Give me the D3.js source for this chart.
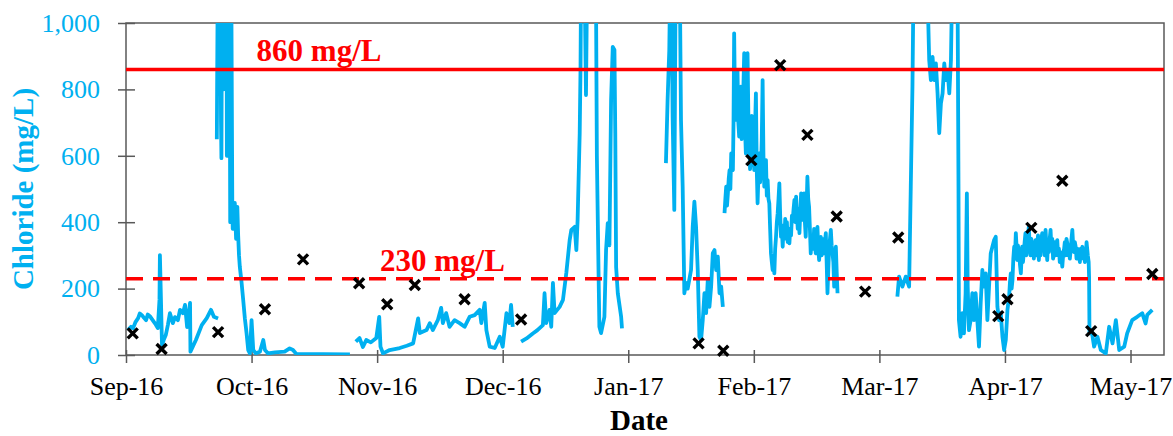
<!DOCTYPE html>
<html>
<head>
<meta charset="utf-8">
<script src="https://cdn.jsdelivr.net/npm/d3@7"></script>
<style>
  body { margin: 0; background: #fff; }
  svg { display: block; font-family: "Liberation Serif", "Times New Roman", serif; }
</style>
</head>
<body>
<div id="wrapper"></div>
<script>
// record start; the date axis is ticked every 30 days from here
const startDate = Date.UTC(2016, 8, 8);
const axisDays = 248;
const tickStepDays = 30;
const yTicks = [0, 200, 400, 600, 800, 1000];

// continuous sensor record: [days after start, chloride mg/L], null = gap in record
const sensorSeries = [
  [0.5,75],[1.2,85],[1.7,81],[2.3,100],[2.9,111],[3.3,125],[3.8,120],[4.3,112],[4.8,105],[5.2,122],[5.7,117],
  [6.2,108],[6.7,99],[7.1,92],[7.6,81],[8.0,166],[8.1,301],[8.35,166],[8.6,30],[9.0,45],[9.5,60],[10.0,90],
  [10.5,126],[11.2,96],[11.7,114],[12.4,105],[12.9,136],[13.6,126],
  [14.1,151],[14.6,84],[15.3,157],[15.4,10],[16.7,45],[18.1,90],[19.3,111],[20.3,136],[21.0,115],[22.0,110],
  null,
  [21.7,650],[22.0,1300],[22.15,900],[22.3,1250],[22.5,1300],[22.7,700],[22.8,593],[23.0,1300],[23.25,800],
  [23.5,1300],[23.7,1300],[23.9,1300],[24.0,1300],[24.1,600],[24.3,1300],[24.5,900],[24.7,1300],[24.9,400],
  [25.05,1300],[25.2,1000],[25.4,450],[25.5,380],[25.8,430],[26.0,458],[26.3,350],
  [26.6,446],[26.8,360],[27.0,300],[27.2,265],[27.6,220],[28.0,166],[28.4,110],[28.8,66],[29.2,15],
  [29.6,5],[30.0,105],[30.4,15],[31.0,5],[32.0,10],[32.8,45],[33.2,15],[33.9,5],[35.6,8],[37.9,10],
  [39.1,20],[39.9,15],[40.7,3],[53.5,2],
  null,
  [54.9,40],[55.8,51],[56.6,24],[57.4,45],[58.5,38],[59.8,51],[60.5,115],[60.8,25],[61.4,5],[63.0,15],
  [65.4,21],[67.1,28],[68.6,35],[69.8,110],[70.2,66],[71.8,75],[72.6,96],[73.3,75],[74.5,105],[75.3,142],
  [75.7,96],[76.5,126],[77.3,85],[78.5,105],[79.7,96],[80.9,85],[82.1,115],[83.3,120],[84.5,136],
  [84.9,96],[85.7,157],[86.1,75],[86.9,25],[88.1,21],[89.3,55],[90.0,25],[90.9,126],[91.6,96],[92.0,151],[92.4,85],
  null,
  [94.4,40],[95.7,50],[97.2,65],[98.3,75],[99.6,90],[100.0,186],[100.4,96],[101.2,136],[101.6,85],
  [102.0,217],[102.4,126],[103.6,145],[104.4,166],[105.2,247],[106.0,346],[106.4,377],[107.2,386],
  [107.6,316],[107.9,407],[108.4,668],[108.6,868],[108.8,1300],[109.5,1200],[109.9,783],[110.3,1300],
  [111.2,1400],[112.2,1300],[112.5,600],[112.9,250],[113.1,85],[113.5,66],[114.3,115],[114.7,316],
  [115.1,397],[115.5,330],[115.9,768],[116.3,928],[116.7,919],[116.9,668],[117.1,265],[117.5,186],
  [118.3,115],[118.5,80],
  null,
  [129.0,578],[129.4,768],[129.8,918],[130.2,1300],[130.6,718],[131.0,437],[131.4,1300],[132.2,1300],
  [132.6,708],[133.0,507],[133.4,186],[133.8,217],[134.2,200],[135.0,256],[135.4,386],[135.8,462],
  [136.2,386],[136.6,256],[137.0,55],[137.4,45],[137.8,105],[138.2,186],[138.6,126],[139.0,226],
  [139.4,145],[139.8,206],[140.2,307],[140.6,316],[141.0,256],[141.4,296],[141.8,186],[142.2,206],[142.6,145],
  null,
  [143.0,427],[143.2,470],[143.4,507],[143.6,450],[143.8,487],[144.0,530],[144.2,557],[144.4,500],[144.6,607],
  [144.8,560],[145.0,557],[145.15,700],[145.3,969],[145.5,760],[145.7,708],[145.9,820],[146.1,858],[146.3,700],
  [146.5,658],[146.7,760],[146.9,808],[147.1,650],[147.3,708],[147.5,800],[147.7,909],[147.9,680],[148.1,607],
  [148.3,760],[148.5,909],[148.7,720],[148.9,658],[149.1,560],[149.3,607],[149.5,720],[149.7,688],[149.9,600],
  [150.1,557],[150.3,690],[150.5,788],[150.7,560],[150.9,457],[151.1,540],[151.3,607],[151.5,520],[151.7,557],
  [151.9,650],[152.1,828],[152.3,600],[152.5,507],[152.7,560],[152.9,587],[153.1,480],[153.3,527],[153.5,470],
  [153.7,457],[153.9,380],[154.1,306],[154.3,280],[154.5,256],[154.7,300],[154.9,246],[155.1,320],[155.3,356],
  [155.5,400],[155.7,427],[155.9,470],[156.1,517],[156.3,420],[156.5,356],[156.7,380],[156.9,326],[157.1,390],
  [157.3,350],[157.5,410],[157.7,356],[157.9,400],[158.1,340],[158.3,380],[158.5,336],[158.7,380],[158.9,360],
  [159.1,420],[159.3,407],[159.5,440],[159.7,467],[159.9,400],[160.1,477],[160.3,420],[160.5,380],[160.7,440],
  [160.9,367],[161.1,430],[161.3,487],[161.5,420],[161.6,407],[161.8,450],[162.0,487],[162.2,400],[162.4,356],
  [162.6,440],[162.8,537],[163.0,470],[163.2,447],[163.4,380],[163.6,306],[163.8,360],[164.0,356],[164.2,320],
  [164.4,380],[164.6,330],[164.8,306],[165.0,360],[165.2,386],[165.4,320],[165.6,286],[165.8,330],[166.0,356],
  [166.2,300],[166.4,350],[166.6,320],[166.8,306],[167.0,340],[167.2,367],[167.4,280],[167.6,186],[167.8,260],
  [168.0,326],[168.2,350],[168.4,377],[168.6,330],[168.8,306],[169.0,280],[169.2,206],[169.4,290],[169.6,326],
  [169.8,250],[170.0,186],
  null,
  [184.3,176],[184.7,236],[185.5,206],[186.3,236],[187.1,206],[187.5,507],[187.9,808],[188.3,1300],
  [189.5,1400],[191.1,1300],[191.9,889],[192.3,828],[192.7,898],[193.1,828],[193.5,878],[193.9,788],
  [194.3,668],[194.7,758],[195.1,788],[195.5,878],[195.9,828],[196.3,858],[196.7,788],[197.1,889],
  [197.6,1300],[198.6,1300],[198.9,507],[199.0,105],[199.4,55],[199.8,126],[200.2,65],[200.6,186],
  [200.9,487],[201.1,206],[201.4,75],[201.8,105],[202.2,186],[202.6,105],[203.0,186],[203.4,105],
  [203.8,25],[204.2,156],[204.6,256],[205.0,206],[205.4,246],[205.8,105],[206.2,206],[206.6,306],
  [207.0,326],[207.4,346],[207.8,356],[208.2,145],[208.6,105],[209.0,126],[209.4,55],[209.8,15],
  [210.2,45],[210.6,136],
  [211.0,176],[211.2,220],[211.4,246],[211.6,200],[211.8,226],[212.0,290],[212.2,326],[212.4,300],[212.6,367],
  [212.8,320],[212.9,286],[213.1,330],[213.4,306],[213.6,270],[213.8,246],[214.0,300],[214.1,326],[214.3,280],
  [214.5,306],[214.7,340],[214.9,367],[215.1,300],[215.3,326],[215.5,360],[215.7,386],[215.9,330],[216.1,300],
  [216.3,350],[216.5,306],[216.7,340],[216.9,290],[217.1,330],[217.3,346],[217.5,300],[217.7,330],[217.9,360],
  [218.1,286],[218.3,330],[218.5,300],[218.7,350],[218.9,367],[219.1,320],[219.3,340],[219.5,300],[219.7,377],
  [219.9,330],[220.1,286],[220.3,340],[220.5,310],[220.7,350],[220.9,377],[221.1,320],[221.3,350],[221.5,290],
  [221.7,306],[221.9,340],[222.1,300],[222.3,330],[222.5,346],[222.7,300],[222.9,320],[223.1,280],[223.3,310],
  [223.5,290],[223.7,266],[223.9,300],[224.1,316],[224.3,340],[224.5,300],[224.7,350],[224.9,336],[225.1,300],
  [225.3,330],[225.5,290],[225.7,316],[225.9,350],[226.1,377],[226.3,330],[226.5,310],[226.7,340],[226.9,326],
  [227.1,290],[227.3,320],[227.5,300],[227.7,306],[227.9,280],[228.1,320],[228.3,300],[228.5,326],[228.7,290],
  [228.9,310],[229.1,280],[229.3,296],[229.5,340],[229.6,326],[229.8,300],[230.0,280],[230.1,236],
  [230.2,65],[230.7,75],[231.3,25],[232.1,55],[232.9,15],
  [234.1,5],[234.9,85],[235.7,35],[236.5,105],[237.3,15],[238.5,25],[239.2,65],[240.4,105],
  [241.6,115],[242.8,126],[243.6,95],[244.0,121],[245.2,136]
];

// lab grab samples: [days after start, chloride mg/L]
const grabSamples = [
  [1.6,65],[8.5,18],[22.0,69],[33.2,138],[42.3,288],[55.7,216],[62.4,153],[69.0,211],[80.9,168],
  [94.4,107],[136.8,35],[142.7,13],[149.4,587],[156.3,873],[162.8,663],[169.8,417],[176.6,191],
  [184.5,354],[208.4,117],[210.6,168],[216.3,383],[223.7,525],[230.6,72],[245.2,244]
];

// guideline concentrations
const limitValues = [860, 230];
const limitLabels = ["860 mg/L", "230 mg/L"];
const limitLabelDays = [31.2, 60.7];

const blue = "#00B0F0";
const red = "#FF0000";
const axisColor = "#595959";

const toDate = d => new Date(startDate + d * 864e5);

let dimensions = {
  width: 1173,
  height: 436,
  margins: { top: 23, right: 9, bottom: 81, left: 126 }
};
dimensions.boundedWidth = dimensions.width - dimensions.margins.left - dimensions.margins.right;
dimensions.boundedHeight = dimensions.height - dimensions.margins.top - dimensions.margins.bottom;

const svg = d3.select("#wrapper").append("svg")
  .attr("width", dimensions.width)
  .attr("height", dimensions.height);

const bounds = svg.append("g")
  .attr("transform", `translate(${dimensions.margins.left},${dimensions.margins.top})`);

const xScale = d3.scaleUtc()
  .domain([toDate(0), toDate(axisDays)])
  .range([0, dimensions.boundedWidth]);
const yScale = d3.scaleLinear()
  .domain([0, 1000])
  .range([dimensions.boundedHeight, 0]);

svg.append("defs").append("clipPath").attr("id", "plotClip")
  .append("rect")
  .attr("width", dimensions.boundedWidth)
  .attr("height", dimensions.boundedHeight);

// axes
const tickDates = d3.range(0, axisDays, tickStepDays).map(toDate);
const xAxis = d3.axisBottom(xScale)
  .tickValues(tickDates)
  .tickFormat(d3.utcFormat("%b-%y"))
  .tickSizeOuter(0);
bounds.append("g")
  .attr("transform", `translate(0,${dimensions.boundedHeight})`)
  .call(xAxis)
  .attr("font-family", null)
  .attr("font-size", 26)
  .call(g => g.select(".domain").remove())
  .call(g => g.selectAll(".tick line").attr("y1", -5).attr("y2", 8).attr("stroke", axisColor).attr("stroke-width", 1.5))
  .call(g => g.selectAll(".tick text").attr("y", 40).attr("dy", 0).attr("fill", "#000"));

const yAxis = d3.axisLeft(yScale)
  .tickValues(yTicks)
  .tickFormat(d3.format(","))
  .tickSizeOuter(0);
bounds.append("g")
  .call(yAxis)
  .attr("font-family", null)
  .attr("font-size", 26)
  .call(g => g.select(".domain").remove())
  .call(g => g.selectAll(".tick line").attr("x1", 9).attr("x2", -8).attr("stroke", axisColor).attr("stroke-width", 1.5))
  .call(g => g.selectAll(".tick text").attr("x", -26).attr("dy", "0.32em").attr("fill", blue));

// plot frame
bounds.append("rect")
  .attr("width", dimensions.boundedWidth)
  .attr("height", dimensions.boundedHeight)
  .attr("fill", "none")
  .attr("stroke", axisColor)
  .attr("stroke-width", 1.5);

const plot = bounds.append("g").attr("clip-path", "url(#plotClip)");

// sensor line
const lineGenerator = d3.line()
  .defined(d => d !== null)
  .x(d => xScale(toDate(d[0])))
  .y(d => yScale(d[1]));

plot.append("path")
  .attr("d", lineGenerator(sensorSeries))
  .attr("fill", "none")
  .attr("stroke", blue)
  .attr("stroke-width", 3.8)
  .attr("stroke-linejoin", "round");

// guideline lines
plot.selectAll(".limit")
  .data(limitValues)
  .join("line")
  .attr("class", "limit")
  .attr("x1", 0)
  .attr("x2", dimensions.boundedWidth)
  .attr("y1", d => yScale(d))
  .attr("y2", d => yScale(d))
  .attr("stroke", red)
  .attr("stroke-width", 3.5)
  .attr("stroke-dasharray", (d, i) => i === 1 ? "17,10" : null);

bounds.selectAll(".limitLabel")
  .data(limitLabels)
  .join("text")
  .attr("class", "limitLabel")
  .attr("x", (d, i) => xScale(toDate(limitLabelDays[i])))
  .attr("y", (d, i) => yScale(limitValues[i]) - 8)
  .attr("fill", red)
  .attr("font-weight", "bold")
  .attr("font-size", 31)
  .text(d => d);

// grab sample crosses
bounds.selectAll(".sample")
  .data(grabSamples)
  .join("path")
  .attr("class", "sample")
  .attr("transform", d => `translate(${xScale(toDate(d[0]))},${yScale(d[1])})`)
  .attr("d", "M-5,-5L5,5M-5,5L5,-5")
  .attr("stroke", "#000")
  .attr("stroke-width", 3.4);

// axis titles
svg.append("text")
  .attr("x", dimensions.margins.left + dimensions.boundedWidth / 2 - 6)
  .attr("y", 430)
  .attr("text-anchor", "middle")
  .attr("font-weight", "bold")
  .attr("font-size", 29)
  .text("Date");

svg.append("text")
  .attr("transform", "translate(33,189) rotate(-90)")
  .attr("text-anchor", "middle")
  .attr("font-weight", "bold")
  .attr("font-size", 29)
  .attr("fill", blue)
  .text("Chloride (mg/L)");
</script>
</body>
</html>
